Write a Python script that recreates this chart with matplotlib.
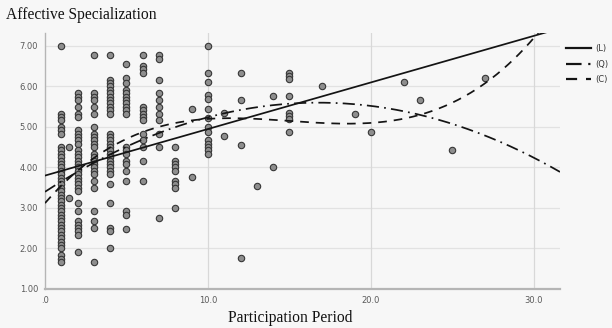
import numpy as np
import matplotlib
matplotlib.use("Agg")
import matplotlib.pyplot as plt
from matplotlib.lines import Line2D

# ---- data ----
period_levels = [1, 1.5, 2, 3, 4, 5, 6, 7, 8, 9, 10, 11, 12, 13, 14, 15, 17, 19, 20, 22, 23, 25, 27]
scores_by_period = [
    [7.0, 5.33, 5.25, 5.17, 5.0, 4.92, 4.83, 4.5, 4.42, 4.33, 4.25, 4.17, 4.08, 4.0, 3.92, 3.83,
     3.75, 3.67, 3.58, 3.5, 3.42, 3.33, 3.25, 3.17, 3.08, 3.0, 2.92, 2.83, 2.75, 2.67, 2.58, 2.5,
     2.42, 2.33, 2.25, 2.17, 2.08, 2.0, 1.83, 1.75, 1.67],
    [4.5, 3.25],
    [5.83, 5.75, 5.67, 5.5, 5.33, 5.25, 4.92, 4.83, 4.75, 4.67, 4.58, 4.42, 4.33, 4.25, 4.17, 4.08,
     4.0, 3.92, 3.83, 3.75, 3.67, 3.58, 3.5, 3.42, 3.13, 2.92, 2.67, 2.58, 2.5, 2.42, 2.33, 1.92],
    [6.78, 5.83, 5.75, 5.67, 5.5, 5.33, 5.0, 4.83, 4.75, 4.67, 4.58, 4.5, 4.33, 4.25, 4.17, 4.08,
     4.0, 3.92, 3.83, 3.67, 3.5, 2.92, 2.67, 2.5, 1.67],
    [6.78, 6.17, 6.08, 6.0, 5.92, 5.83, 5.75, 5.67, 5.58, 5.5, 5.42, 5.33, 4.83, 4.75, 4.67, 4.58,
     4.5, 4.42, 4.33, 4.25, 4.17, 4.08, 4.0, 3.92, 3.83, 3.58, 3.12, 2.5, 2.42, 2.0],
    [6.55, 6.2, 6.08, 5.92, 5.83, 5.75, 5.67, 5.58, 5.5, 5.42, 5.33, 4.5, 4.42, 4.33, 4.17, 4.08,
     3.92, 3.67, 2.92, 2.83, 2.47],
    [6.78, 6.5, 6.42, 6.33, 5.5, 5.42, 5.33, 5.25, 5.17, 4.83, 4.67, 4.5, 4.17, 3.67],
    [6.78, 6.67, 6.17, 5.83, 5.67, 5.5, 5.33, 5.17, 4.83, 4.5, 2.75],
    [4.5, 4.17, 4.08, 4.0, 3.92, 3.67, 3.58, 3.5, 3.0],
    [5.45, 3.77],
    [7.0, 6.33, 6.1, 5.8, 5.7, 5.44, 5.22, 5.0, 4.88, 4.67, 4.58, 4.5, 4.42, 4.33],
    [5.35, 4.78],
    [6.33, 5.67, 4.56, 1.77],
    [3.55],
    [5.77, 4.0],
    [6.33, 6.25, 6.19, 5.77, 5.35, 5.27, 5.2, 4.88],
    [6.0],
    [5.33],
    [4.88],
    [6.11],
    [5.67],
    [4.43],
    [6.2],
]

# fitted curve coefficients (highest power first)
linear_coef = [0.115, 3.80]
quadratic_coef = [-0.0078, 0.262, 3.40]
cubic_coef = [0.00073, -0.0328, 0.463, 3.12]
legend_labels = ["(L)", "(Q)", "(C)"]

y_ticks = [1, 2, 3, 4, 5, 6, 7]
y_ticklabels = ["1.00", "2.00", "3.00", "4.00", "5.00", "6.00", "7.00"]
x_ticks = [0, 10, 20, 30]
x_ticklabels = [".0", "10.0", "20.0", "30.0"]

# ---- figure ----
W, H = 612, 328
bg = "#f7f7f7"
fig = plt.figure(figsize=(W / 100, H / 100), dpi=100, facecolor=bg)
ax = fig.add_axes([45 / W, 1 - 289 / H, (560 - 45) / W, (289 - 33) / H], facecolor=bg)

xs = np.concatenate([[p] * len(v) for p, v in zip(period_levels, scores_by_period)])
ys = np.concatenate([np.asarray(v, float) for v in scores_by_period])

ax.set_xlim(0, 31.6)
ax.set_ylim(1.0, 7.32)

for yt in y_ticks[1:]:
    ax.axhline(yt, color="#e2e2e2", lw=0.9, zorder=0)
for xt in x_ticks[1:]:
    ax.axvline(xt, color="#d8d8d8", lw=0.9, zorder=0)

ax.plot(xs, ys, linestyle="none", marker="o", ms=4.6, mfc="#8e8e8e", mec="#363636",
        mew=0.8, zorder=2)

xf = np.linspace(0, 31.6, 400)
ls_list = ["-", (0, (7, 3, 1, 3)), (0, (5, 4))]
handles = []
for coef, ls, lab in zip([linear_coef, quadratic_coef, cubic_coef], ls_list, legend_labels):
    ax.plot(xf, np.polyval(coef, xf), color="#141414", lw=1.25, ls=ls, zorder=3)
    handles.append(Line2D([], [], color="#141414", lw=1.6, ls=ls, label=lab))

for s in ["top", "right"]:
    ax.spines[s].set_visible(False)
ax.spines["left"].set_color("#b5b5b5")
ax.spines["left"].set_linewidth(1.0)
ax.spines["bottom"].set_color("#b5b5b5")
ax.spines["bottom"].set_linewidth(1.6)

ax.set_yticks(y_ticks)
ax.set_yticklabels(y_ticklabels)
ax.set_xticks(x_ticks)
ax.set_xticklabels(x_ticklabels)
ax.tick_params(length=0, labelsize=6, labelcolor="#5a5a5a")
ax.tick_params(axis="y", pad=5)
ax.tick_params(axis="x", pad=5)

fig.text(6 / W, 1 - 15 / H, "Affective Specialization", family="Liberation Serif",
         fontsize=11.2, ha="left", va="center", color="#111111")
fig.text(290 / W, 1 - 318 / H, "Participation Period", family="Liberation Serif",
         fontsize=11.2, ha="center", va="center", color="#111111")

fig.legend(handles=handles, loc="upper left", bbox_to_anchor=(563 / W, 1 - 41 / H),
           frameon=False, fontsize=6, handlelength=3.0, handletextpad=0.5,
           labelspacing=0.75, borderaxespad=0, labelcolor="#333333")

fig.savefig("out.png", dpi=100, facecolor=bg)
